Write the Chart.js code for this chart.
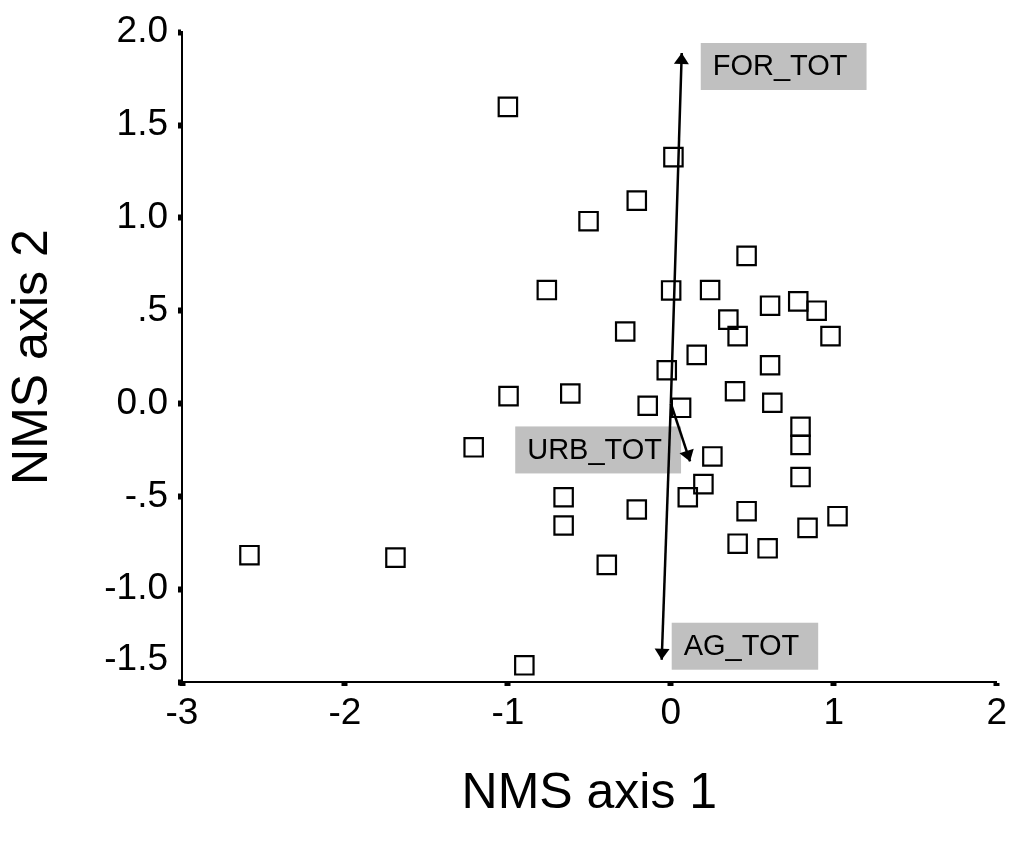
<!DOCTYPE html>
<html>
<head>
<meta charset="utf-8">
<title>NMS ordination</title>
<script src="https://cdn.jsdelivr.net/npm/chart.js@4/dist/chart.umd.min.js"></script>
<style>
  html, body { margin: 0; padding: 0; background: #fff; }
  #wrap { width: 1013px; height: 842px; }
</style>
</head>
<body>
<div id="wrap"><canvas id="chart-nms" width="1013" height="842"></canvas></div>
<script>
// site scores on the two NMS axes
const siteX = [
  -2.586, -1.690, -1.210, -1.000, -0.996, -0.899, -0.761, -0.658, -0.658, -0.617,
  -0.393, -0.505, -0.280, -0.209, -0.209, -0.142, -0.025, 0.002, 0.016, 0.063,
  0.104, 0.159, 0.200, 0.241, 0.255, 0.353, 0.394, 0.410, 0.410, 0.465,
  0.465, 0.594, 0.609, 0.609, 0.623, 0.782, 0.796, 0.796, 0.796, 0.839,
  0.895, 0.980, 1.023
];
const siteY = [
  -0.817, -0.830, -0.236, 1.598, 0.040, -1.410, 0.611, -0.505, -0.657, 0.054,
  -0.869, 0.982, 0.388, 1.093, -0.571, -0.012, 0.179, 0.609, 1.327, -0.023,
  -0.505, 0.262, -0.434, 0.611, -0.285, 0.452, 0.066, 0.363, -0.755, 0.795,
  -0.580, -0.780, 0.527, 0.206, 0.004, 0.550, -0.125, -0.223, -0.396, -0.670,
  0.500, 0.363, -0.607
];

// land-use vectors (joint plot)
const vectorNames = ['FOR_TOT', 'URB_TOT', 'AG_TOT'];
const vectorX = [0.067, 0.118, -0.056];
const vectorY = [1.888, -0.312, -1.380];

const xTickValues = [-3, -2, -1, 0, 1, 2];
const yTickValues = [-1.5, -1.0, -0.5, 0.0, 0.5, 1.0, 1.5, 2.0];
const yTickLabels = ['-1.5', '-1.0', '-.5', '0.0', '.5', '1.0', '1.5', '2.0'];

const FONT = "'Liberation Sans', Arial, sans-serif";

// where each vector label box sits relative to its arrow tip
const labelPlacement = {
  FOR_TOT: { dx: 19, dy: -10, anchor: 'left' },
  URB_TOT: { dx: -9, dy: -35, anchor: 'right' },
  AG_TOT: { dx: 10, dy: -37, anchor: 'left' }
};

function vectorTip(chart, i) {
  const xs = chart.scales.x;
  const ys = chart.scales.y;
  return {
    x: xs.getPixelForValue(vectorX[i]),
    y: ys.getPixelForValue(vectorY[i])
  };
}

const vectorPlugin = {
  id: 'vectorLabels',
  beforeDatasetsDraw(chart) {
    const ctx = chart.ctx;
    ctx.save();
    ctx.font = '29px ' + FONT;
    ctx.textBaseline = 'middle';
    vectorNames.forEach((name, i) => {
      const tip = vectorTip(chart, i);
      const p = labelPlacement[name];
      const w = ctx.measureText(name).width + 31;
      const h = 47;
      const left = p.anchor === 'left' ? tip.x + p.dx : tip.x + p.dx - w;
      const top = tip.y + p.dy;
      ctx.fillStyle = '#c0c0c0';
      ctx.fillRect(left, top, w, h);
      ctx.fillStyle = '#000';
      ctx.textAlign = 'left';
      ctx.fillText(name, left + 12, top + h / 2 + 1);
    });
    ctx.restore();
  },
  afterDatasetsDraw(chart) {
    const ctx = chart.ctx;
    const xs = chart.scales.x;
    const ys = chart.scales.y;
    const ox = xs.getPixelForValue(0);
    const oy = ys.getPixelForValue(0);
    ctx.save();
    ctx.fillStyle = '#000';
    vectorNames.forEach((name, i) => {
      const tip = vectorTip(chart, i);
      const a = Math.atan2(tip.y - oy, tip.x - ox);
      const len = 11;
      const half = 7.5;
      const bx = tip.x - len * Math.cos(a);
      const by = tip.y - len * Math.sin(a);
      ctx.beginPath();
      ctx.moveTo(tip.x, tip.y);
      ctx.lineTo(bx + half * Math.sin(a), by - half * Math.cos(a));
      ctx.lineTo(bx - half * Math.sin(a), by + half * Math.cos(a));
      ctx.closePath();
      ctx.fill();
    });
    ctx.restore();
  }
};

function buildChart() {
  const el = document.getElementById('chart-nms');

  const sites = siteX.map((x, i) => ({ x: x, y: siteY[i] }));
  const vectorSets = vectorNames.map((name, i) => ({
    label: name,
    data: [{ x: 0, y: 0 }, { x: vectorX[i], y: vectorY[i] }],
    showLine: true,
    borderColor: '#000',
    borderWidth: 2.5,
    pointRadius: 0,
    fill: false
  }));

  const tickFont = { family: FONT, size: 37 };
  const titleFont = { family: FONT, size: 50 };

  return new Chart(el, {
    type: 'scatter',
    data: {
      datasets: [
        {
          label: 'sites',
          data: sites,
          pointStyle: 'rect',
          pointRadius: 13,
          pointHoverRadius: 13,
          pointBorderWidth: 2.2,
          pointBorderColor: '#000',
          pointBackgroundColor: 'rgba(0,0,0,0)'
        },
        ...vectorSets
      ]
    },
    options: {
      responsive: false,
      animation: false,
      devicePixelRatio: 1,
      layout: { padding: { left: 0, top: 28, right: 15, bottom: 0 } },
      plugins: { legend: { display: false }, tooltip: { enabled: false } },
      scales: {
        x: {
          type: 'linear',
          min: -3,
          max: 2,
          afterBuildTicks: (s) => { s.ticks = xTickValues.map((v) => ({ value: v })); },
          afterFit: (s) => { s.height = 160; },
          border: { display: true, color: '#000', width: 2 },
          grid: { drawOnChartArea: false, drawTicks: true, tickLength: 4, tickWidth: 6, tickColor: '#000' },
          ticks: { color: '#000', font: tickFont, padding: 6, maxRotation: 0, autoSkip: false },
          title: { display: true, text: 'NMS axis 1', color: '#000', font: titleFont, padding: { top: 0, bottom: 18 } }
        },
        y: {
          type: 'linear',
          min: -1.5,
          max: 2.0,
          afterBuildTicks: (s) => { s.ticks = yTickValues.map((v) => ({ value: v })); },
          afterFit: (s) => { s.width = 182; },
          border: { display: true, color: '#000', width: 2 },
          grid: { drawOnChartArea: false, drawTicks: true, tickLength: 4, tickWidth: 6, tickColor: '#000' },
          ticks: {
            color: '#000',
            font: tickFont,
            padding: 10,
            autoSkip: false,
            callback: (v) => {
              const idx = yTickValues.findIndex((t) => Math.abs(t - v) < 1e-9);
              if (idx < 0) return '';
              // bottom label is lifted clear of the x axis labels
              return idx === 0 ? [yTickLabels[idx], ''] : yTickLabels[idx];
            }
          },
          title: { display: true, text: 'NMS axis 2', color: '#000', font: titleFont, padding: { top: 3, bottom: 0 } }
        }
      }
    },
    plugins: [vectorPlugin]
  });
}

window.onload = buildChart;
</script>
</body>
</html>
